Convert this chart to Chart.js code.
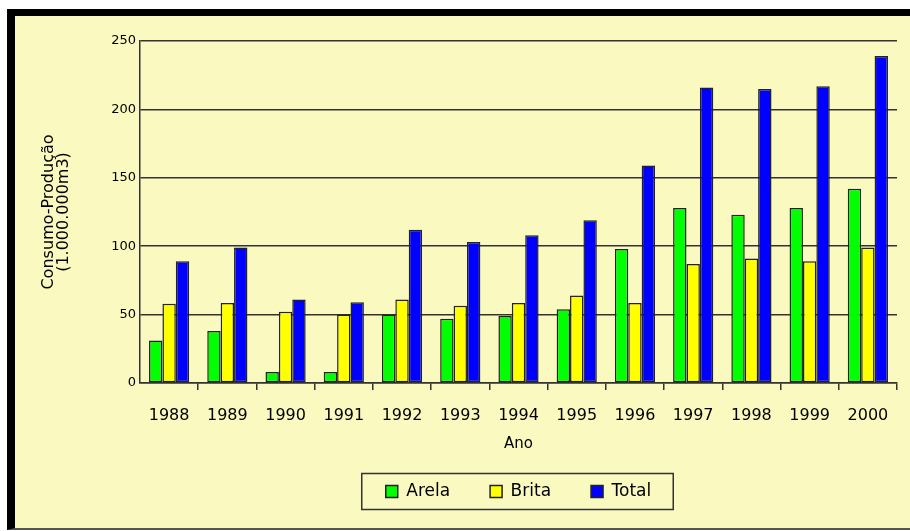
<!DOCTYPE html>
<html>
<head>
<meta charset="utf-8">
<script src="https://cdn.jsdelivr.net/npm/chart.js@4.4.1/dist/chart.umd.min.js"></script>
<style>
  html, body { margin: 0; padding: 0; background: #fff; }
  #frame {
    position: absolute; left: 7px; top: 9px;
    width: 895px; height: 512px;
    border-left: 8px solid #000; border-top: 7px solid #000;
    border-bottom: 2px solid #555;
    background: #f9f9c0;
  }
  canvas { display: block; }
</style>
</head>
<body>
<div id="frame"><canvas id="chart" width="895" height="512"></canvas></div>
<script>
// Data
const years = ['1988', '1989', '1990', '1991', '1992', '1993', '1994', '1995', '1996', '1997', '1998', '1999', '2000'];
const areia = [31, 38, 8, 8, 50, 47, 49, 54, 98, 128, 123, 128, 142];
const brita = [58, 58.5, 52, 50, 61, 56.5, 58.5, 64, 58.5, 87, 91, 89, 99];
const total = [89, 99, 61, 59, 112, 103, 108, 119, 159, 216, 215, 217, 239];
const yTicks = [0, 50, 100, 150, 200, 250];

const FONT = "'DejaVu Sans', sans-serif";
const LINE = '#333';

// Draws the rectangle around the legend items
const legendBox = {
  id: 'legendBox',
  afterDraw(chart) {
    const boxes = chart.legend.legendHitBoxes;
    if (!boxes || !boxes.length) return;
    const first = boxes[0];
    const last = boxes[boxes.length - 1];
    const ctx = chart.ctx;
    ctx.save();
    ctx.strokeStyle = LINE;
    ctx.lineWidth = 1.5;
    const midY = first.top + first.height / 2;
    ctx.strokeRect(first.left - 24, midY - 18, last.left + last.width - first.left + 46, 36);
    ctx.restore();
  }
};

const ctx = document.getElementById('chart').getContext('2d');
new Chart(ctx, {
  type: 'bar',
  data: {
    labels: years,
    datasets: [
      { label: 'Arela', data: areia, backgroundColor: '#00ff00' },
      { label: 'Brita', data: brita, backgroundColor: '#ffff00' },
      { label: 'Total', data: total, backgroundColor: '#0000ff' }
    ].map(d => Object.assign(d, {
      borderColor: '#222', borderWidth: 1.5, borderSkipped: false,
      categoryPercentage: 0.69, barPercentage: 1.0
    }))
  },
  options: {
    responsive: false,
    animation: false,
    layout: { padding: { left: 0, right: 13, top: 25, bottom: 18 } },
    plugins: {
      tooltip: { enabled: false },
      legend: {
        position: 'bottom',
        fullSize: false,
        labels: {
          boxWidth: 12, boxHeight: 12, padding: 40,
          color: '#000', font: { family: FONT, size: 17 }
        }
      }
    },
    scales: {
      x: {
        grid: {
          offset: true, drawOnChartArea: false, tickLength: 7,
          color: c => c.index === 0 ? 'rgba(0,0,0,0)' : LINE, lineWidth: 1.5
        },
        border: { display: true, color: LINE, width: 1.5 },
        ticks: { color: '#000', padding: 16, font: { family: FONT, size: 16 } },
        title: {
          display: true, text: 'Ano', color: '#000',
          font: { family: FONT, size: 15 }, padding: { top: 0, bottom: -10 }
        },
        afterFit: s => { s.height = 60; }
      },
      y: {
        min: 0, max: 250,
        afterBuildTicks: s => { s.ticks = yTicks.map(v => ({ value: v })); },
        grid: { color: LINE, lineWidth: 1.5, drawTicks: false },
        border: { display: true, color: LINE, width: 1.5 },
        ticks: { color: '#000', padding: 4, font: { family: FONT, size: 13 } },
        title: {
          display: true, text: ['Consumo-Produção', '(1.000.000m3)'], color: '#000',
          font: { family: FONT, size: 16, lineHeight: 0.95 }, padding: { top: 26, bottom: 0 }
        },
        afterFit: s => { s.width = 125; }
      }
    }
  },
  plugins: [legendBox]
});
</script>
</body>
</html>
